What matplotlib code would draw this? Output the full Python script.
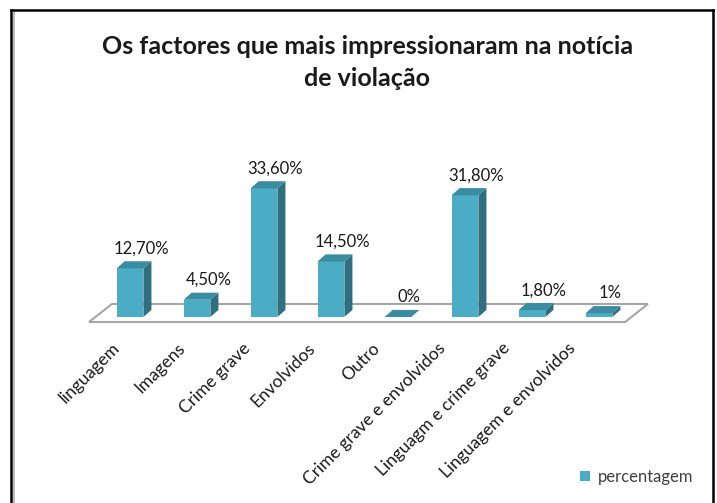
import matplotlib
matplotlib.use('Agg')
import matplotlib.pyplot as plt
from matplotlib.patches import Polygon
from matplotlib.lines import Line2D

plt.rcParams['font.family'] = ['Lato', 'DejaVu Sans']

# data
categories = ['linguagem', 'Imagens', 'Crime grave', 'Envolvidos', 'Outro',
              'Crime grave e envolvidos', 'Linguagm e crime grave',
              'Linguagem e envolvidos']
values = [12.7, 4.5, 33.6, 14.5, 0, 31.8, 1.8, 1]
value_labels = ['12,70%', '4,50%', '33,60%', '14,50%', '0%', '31,80%', '1,80%', '1%']
series_name = 'percentagem'

front_col = '#4bacc6'
side_col = '#2f6f7f'
top_col = '#3a8ca1'
txt_col = '#1a1a1a'

fig = plt.figure(figsize=(7.17, 5.03), dpi=100)
W, H = 717, 503

# frame around the chart
fig.add_artist(Line2D([11 / W, 11 / W], [0, 1 - 10 / H], color='black', lw=1.8))
fig.add_artist(Line2D([13.5 / W, 13.5 / W], [0, 1 - 12 / H], color='#b0b0b0', lw=1.2))
fig.add_artist(Line2D([11 / W, 713 / W], [1 - 10 / H, 1 - 10 / H], color='black', lw=1.8))
fig.add_artist(Line2D([713 / W, 713 / W], [0, 1 - 10 / H], color='black', lw=1.8))

ax = fig.add_axes([96.5 / W, (H - 317) / H, 536 / W, 153.2 / H])
ax.set_xlim(-0.5, 7.5)
ax.set_ylim(0, 40)
ax.axis('off')

# depth offsets (data units)
dx, dy = 0.12, 1.85
w = 0.4
x = list(range(len(values)))

# floor
floor = Polygon([(-0.612, -1.3), (7.39, -1.3), (7.73, 3.4), (-0.269, 3.4)],
                closed=True, facecolor='white', edgecolor='#a6a6a6', lw=1.5,
                clip_on=False, zorder=1)
ax.add_patch(floor)

bars = ax.bar(x, values, width=w, color=front_col, zorder=3, label=series_name,
              clip_on=False)
for i, v in zip(x, values):
    r = i + w / 2
    l = i - w / 2
    ax.add_patch(Polygon([(r, 0), (r + dx, dy), (r + dx, v + dy), (r, v)],
                         closed=True, facecolor=side_col, edgecolor='none',
                         zorder=3, clip_on=False))
    ax.add_patch(Polygon([(l, v), (r, v), (r + dx, v + dy), (l + dx, v + dy)],
                         closed=True, facecolor=top_col, edgecolor='none',
                         zorder=3, clip_on=False))

for i, v, lab in zip(x, values, value_labels):
    ax.text(i + 0.17, v + dy + 1.2, lab, ha='center', va='bottom',
            fontsize=12, color=txt_col, clip_on=False)

# category labels sit on a slightly tighter pitch than the bars (perspective)
for i, lab in zip(x, categories):
    ax.text(i - 0.27 - 0.03 * i, -6.0, lab, rotation=45, rotation_mode='anchor',
            ha='right', va='top', fontsize=12.5, color=txt_col, clip_on=False)

fig.text(0.512, 1 - 35 / H, 'Os factores que mais impressionaram na notícia\nde violação',
         ha='center', va='top', fontsize=18, fontweight='bold', color=txt_col,
         linespacing=1.45)

fig.legend(handles=[bars], labels=[series_name], loc='center left',
           bbox_to_anchor=(565 / W, 1 - 477 / H), frameon=False, fontsize=12,
           handlelength=0.6, handleheight=0.6, handletextpad=0.45,
           labelcolor='#404040')

fig.savefig('out.png', dpi=100)
